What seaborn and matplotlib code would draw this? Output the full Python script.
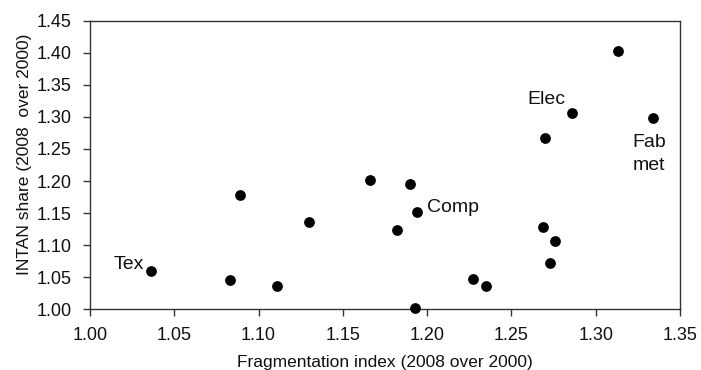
import matplotlib
matplotlib.use("Agg")
import matplotlib.pyplot as plt
import seaborn as sns
import pandas as pd

frag = [1.036, 1.083, 1.089, 1.111, 1.130, 1.166, 1.190, 1.194, 1.182, 1.193,
        1.227, 1.235, 1.270, 1.286, 1.313, 1.334, 1.269, 1.276, 1.273]
intan = [1.059, 1.046, 1.179, 1.037, 1.136, 1.201, 1.196, 1.152, 1.124, 1.002,
         1.048, 1.036, 1.267, 1.306, 1.403, 1.299, 1.128, 1.107, 1.073]
labels = {0: "Tex", 7: "Comp", 13: "Elec", 15: "Fab\nmet"}

xticks = [1.00, 1.05, 1.10, 1.15, 1.20, 1.25, 1.30, 1.35]
yticks = [1.00, 1.05, 1.10, 1.15, 1.20, 1.25, 1.30, 1.35, 1.40, 1.45]

df = pd.DataFrame({"frag": frag, "intan": intan})

sns.set_theme(style="white")
plt.rcParams["font.family"] = ["Liberation Sans", "DejaVu Sans"]

fig = plt.figure(figsize=(7.01, 3.70), dpi=100)
ax = fig.add_axes([0.1284, 0.164, 0.8416, 0.780])
sns.scatterplot(data=df, x="frag", y="intan", ax=ax, color="black", s=60,
                edgecolor="black", linewidth=0, zorder=3, clip_on=False)

ax.set_xlim(1.00, 1.35)
ax.set_ylim(1.00, 1.45)
ax.set_xticks(xticks)
ax.set_yticks(yticks)
ax.set_xticklabels([f"{v:.2f}" for v in xticks], fontsize=13)
ax.set_yticklabels([f"{v:.2f}" for v in yticks], fontsize=13)
ax.tick_params(axis="both", direction="out", length=5, width=1, color="#333333",
               bottom=True, left=True, pad=8, labelcolor="#111111")
for sp in ax.spines.values():
    sp.set_color("#333333")
    sp.set_linewidth(1)
ax.set_xlabel("Fragmentation index (2008 over 2000)", fontsize=12.5, labelpad=8, color="#111111")
ax.set_ylabel("INTAN share (2008  over 2000)", fontsize=12.5, color="#111111")
ax.yaxis.set_label_coords(-0.099, 0.538)

offsets = {0: (-5, -1, "right", "bottom"),
           7: (7, -3, "left", "bottom"),
           13: (-5, 4, "right", "bottom"),
           15: (-3, -12, "center", "top")}
for i, txt in labels.items():
    dx, dy, ha, va = offsets[i]
    ax.annotate(txt, (frag[i], intan[i]), xytext=(dx, dy), textcoords="offset points",
                ha=ha, va=va, fontsize=14, color="#111111", linespacing=1.45)

fig.savefig("out.png", dpi=100)
